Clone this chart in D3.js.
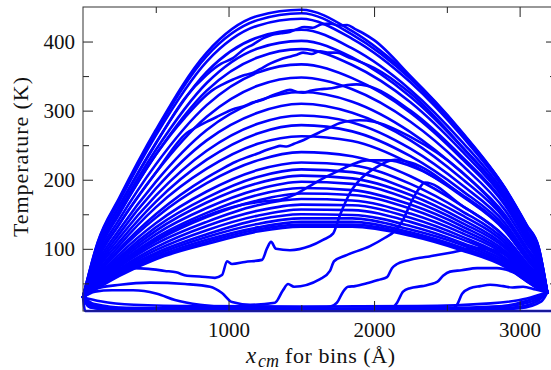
<!DOCTYPE html>
<html>
<head>
<meta charset="utf-8">
<script src="https://cdn.jsdelivr.net/npm/d3@7"></script>
<style>
  body { margin: 0; background: #fff; }
  svg { display: block; }
  svg text { font-family: "Liberation Serif", "DejaVu Serif", "Noto Serif", serif !important; fill: #111; }
</style>
</head>
<body>
<svg id="chart" width="551" height="370"></svg>
<script>
// Bin positions (Å) at which the smooth temperature profiles are sampled
const xGrid = [0, 100, 250, 500, 850, 1200, 1500, 1850, 2250, 2600, 2900, 3050, 3130, 3190];

// Smooth temperature profiles (K), one row per snapshot, values at xGrid
const profileTemps = [
  [30,109,174,272,384,437,446,415,349,270,188,134,103,37],
  [30,108,172,269,379,431,441,410,346,267,187,133,102,37],
  [30,106,169,264,371,423,433,404,341,264,184,131,100,37],
  [30,102,162,253,356,406,417,390,330,256,179,126,96,37],
  [30,97,156,243,340,390,401,377,320,248,174,122,92,37],
  [30,94,151,236,329,377,389,366,312,242,170,118,89,37],
  [30,89,143,222,308,355,367,347,297,231,163,112,84,37],
  [30,85,136,210,291,336,348,331,284,222,156,107,80,37],
  [30,80,128,197,272,314,327,313,269,211,149,101,76,37],
  [30,76,122,187,257,297,310,297,257,202,143,97,72,37],
  [30,73,116,177,242,281,293,283,245,193,137,92,69,37],
  [30,70,110,168,229,267,279,270,234,185,132,89,67,37],
  [30,66,105,160,216,252,263,256,223,177,126,85,64,37],
  [30,62,97,145,195,228,240,234,205,163,117,79,59,37],
  [30,59,92,137,183,214,225,221,194,155,112,75,57,37],
  [30,57,88,131,174,204,215,211,185,149,108,72,55,37],
  [30,56,85,126,167,195,206,202,178,143,104,70,54,37],
  [30,54,82,121,159,186,197,194,171,138,101,68,52,37],
  [30,52,79,116,152,178,188,185,164,133,97,66,51,37],
  [30,51,76,111,146,170,180,178,158,128,94,64,49,37],
  [30,50,74,107,139,163,172,170,151,123,91,62,48,37],
  [30,48,71,102,133,155,164,163,145,118,87,60,47,37],
  [30,47,69,98,127,148,157,156,139,114,85,59,46,37],
  [30,46,67,94,121,142,150,149,133,109,82,57,45,37],
  [30,45,65,91,117,136,144,144,128,106,79,55,44,37],
  [30,44,63,88,113,131,139,139,124,102,77,54,43,37],
  [30,44,62,86,110,128,135,135,121,100,76,53,43,37],
  [30,43,61,85,107,125,132,132,119,98,74,53,42,37]
];

// Noisy profiles, [x (Å), T (K)]
const noisy1 = [[0,30],[100,102],[250,162],[500,252],[700,318],[850,352],[950,368],[1030,376],[1100,388],[1170,396],[1240,405],[1300,410],[1360,412],[1420,414],[1470,418],[1520,421],[1580,420],[1640,425],[1700,426],[1760,423],[1815,424],[1870,418],[1925,412],[2000,402],[2250,350],[2600,269],[2900,187],[3050,133],[3130,102],[3190,37]];
const noisy2 = [[0,30],[100,94],[250,151],[500,236],[700,290],[893,330],[960,338],[1031,345],[1100,351],[1160,354],[1216,360],[1285,368],[1354,374],[1420,378],[1470,381],[1512,384],[1570,382],[1629,386],[1690,384],[1745,384],[1815,378],[1900,371],[2000,362],[2250,325],[2600,249],[2900,175],[3050,123],[3130,93],[3190,37]];
const noisy3 = [[0,30],[100,85],[250,136],[500,210],[715,268],[780,276],[852,284],[930,292],[1031,302],[1100,306],[1170,312],[1240,316],[1300,322],[1354,326],[1422,330],[1470,327],[1512,326],[1570,329],[1629,331],[1690,332],[1745,334],[1815,337],[1880,338],[1950,336],[2250,300],[2600,234],[2900,165],[3050,114],[3130,85],[3190,37]];
const noisy4 = [[0,30],[100,64],[250,100],[500,150],[850,203],[950,215],[1050,226],[1120,232],[1200,238],[1260,243],[1320,247],[1354,249],[1400,248],[1450,252],[1500,256],[1560,262],[1620,268],[1700,276],[1766,282],[1830,285],[1900,286],[2000,284],[2250,262],[2600,212],[2900,146],[3050,100],[3130,74],[3190,37]];
const noisy5 = [[0,30],[100,51],[250,77],[500,113],[850,148],[1100,164],[1300,170],[1354,171],[1450,178],[1550,190],[1650,202],[1766,214],[1850,222],[1950,228],[2100,228],[2250,220],[2600,179],[2900,128],[3050,88],[3130,65],[3190,37]];

// Profiles with a moving front, [x (Å), T (K)]
const frontA = [[0,30],[117,58],[344,72],[450,71],[563,68],[640,66],[715,61],[800,60],[907,58],[955,62],[990,82],[1024,78],[1113,81],[1230,84],[1265,101],[1292,110],[1326,100],[1422,98],[1560,104],[1649,113],[1718,122],[1766,149],[1835,181],[1903,200],[2007,217],[2144,229],[2250,225],[2600,178],[2900,127],[3050,85],[3130,64],[3190,37]];
const frontB = [[0,30],[82,42],[254,48],[460,51],[701,49],[873,45],[955,36],[1024,23],[1148,19],[1319,22],[1374,40],[1409,49],[1450,45],[1629,56],[1697,68],[1725,82],[1800,90],[1972,104],[2075,116],[2144,126],[2199,142],[2247,164],[2302,185],[2350,196],[2600,163],[2900,117],[3050,79],[3130,59],[3190,37]];
const frontC = [[0,30],[60,20],[186,15],[460,13],[1148,13],[1600,14],[1697,16],[1745,22],[1787,38],[1821,45],[1869,46],[1950,50],[2030,55],[2089,59],[2123,72],[2158,78],[2230,83],[2316,87],[2380,89],[2433,91],[2543,95],[2694,101],[2866,95],[3037,72],[3130,52],[3190,37]];
const frontD = [[0,30],[50,18],[186,13],[460,12],[1491,11],[2110,13],[2158,22],[2199,38],[2247,43],[2330,46],[2433,52],[2474,61],[2522,67],[2600,69],[2708,72],[2845,72],[3003,62],[3120,48],[3190,37]];
const frontE = [[0,30],[40,16],[186,12],[460,11],[1491,11],[2522,12],[2570,19],[2605,35],[2659,43],[2730,46],[2797,48],[2886,46],[2950,44],[3024,45],[3110,41],[3190,37]];
const coolF  = [[0,30],[82,38],[200,40],[344,40],[420,39],[509,35],[632,26],[804,19],[1148,14],[1800,13],[2522,13],[2850,16],[3003,22],[3120,30],[3190,37]];

// Cold profiles near the base temperature
const band1 = [[0,30],[120,24],[350,19],[800,17],[1500,16.5],[2300,17],[2800,21],[3050,28],[3190,37]];
const band2 = [[0,30],[80,20],[300,14.5],[800,14],[1500,13.5],[2400,14],[2900,17],[3100,25],[3190,37]];
const band3 = [[0,30],[60,18],[250,13],[800,12.5],[2500,12.5],[2950,15],[3120,24],[3190,37]];
const band4 = [[0,30],[50,15],[200,11.5],[1500,11],[2700,11.5],[3000,14],[3150,24],[3190,37]];
const initial = [[0,30],[15,10],[3250,10]];

// Axis ticks
const xMajor = [1000, 2000, 3000];
const xMinor = [500, 1500, 2500];
const yMajor = [100, 200, 300, 400];
const yMinor = [50, 150, 250, 350];

const svg = d3.select("#chart");
const L = 83, R = 556, T = 7, B = 311;
const x = d3.scaleLinear().domain([0, 3250]).range([L, R]);
const y = d3.scaleLinear().domain([10, 450]).range([B, T]);

svg.append("rect").attr("width", 551).attr("height", 370).attr("fill", "#fff");

// Curves
const line = d3.line().x(d => x(d[0])).y(d => y(d[1])).curve(d3.curveMonotoneX);
const series = [];
profileTemps.forEach(row => series.push(row.map((t, i) => [xGrid[i], t])));
[noisy1, noisy2, noisy3, noisy4, noisy5,
 frontA, frontB, frontC, frontD, frontE, coolF,
 band1, band2, band3, band4, initial].forEach(s => series.push(s));

svg.append("g")
  .selectAll("path")
  .data(series)
  .join("path")
  .attr("d", line)
  .attr("fill", "none")
  .attr("stroke", "#0000ff")
  .attr("stroke-width", 2.6)
  .attr("stroke-linejoin", "round")
  .attr("stroke-linecap", "round");

// Axes with inward ticks on all four sides
function styleAxis(g) {
  g.attr("font-family", null).attr("font-size", null);
  g.select(".domain").remove();
  g.selectAll(".tick line").attr("stroke", "#222").attr("stroke-width", 1);
  g.selectAll(".tick text").attr("font-size", 21).attr("fill", "#111");
}
svg.append("g").attr("transform", `translate(0,${B})`)
  .call(d3.axisBottom(x).tickValues(xMajor).tickSize(-10).tickPadding(11).tickFormat(d3.format("d")))
  .call(styleAxis);
svg.append("g").attr("transform", `translate(0,${B})`)
  .call(d3.axisBottom(x).tickValues(xMinor).tickSize(-6).tickFormat(""))
  .call(styleAxis);
svg.append("g").attr("transform", `translate(0,${T})`)
  .call(d3.axisTop(x).tickValues(xMajor).tickSize(-10).tickFormat(""))
  .call(styleAxis);
svg.append("g").attr("transform", `translate(0,${T})`)
  .call(d3.axisTop(x).tickValues(xMinor).tickSize(-6).tickFormat(""))
  .call(styleAxis);
svg.append("g").attr("transform", `translate(${L},0)`)
  .call(d3.axisLeft(y).tickValues(yMajor).tickSize(-10).tickPadding(8).tickFormat(d3.format("d")))
  .call(styleAxis);
svg.append("g").attr("transform", `translate(${L},0)`)
  .call(d3.axisLeft(y).tickValues(yMinor).tickSize(-6).tickFormat(""))
  .call(styleAxis);
svg.append("g").attr("transform", `translate(${R},0)`)
  .call(d3.axisRight(y).tickValues(yMajor).tickSize(-10).tickFormat(""))
  .call(styleAxis);
svg.append("g").attr("transform", `translate(${R},0)`)
  .call(d3.axisRight(y).tickValues(yMinor).tickSize(-6).tickFormat(""))
  .call(styleAxis);

// Frame
svg.append("rect")
  .attr("x", L).attr("y", T).attr("width", R - L).attr("height", B - T)
  .attr("fill", "none").attr("stroke", "#333").attr("stroke-width", 1);

// Axis titles
svg.append("text")
  .attr("transform", "translate(28,157) rotate(-90)")
  .attr("text-anchor", "middle")
  .attr("font-size", 22)
  .attr("textLength", 160)
  .attr("lengthAdjust", "spacing")
  .text("Temperature (K)");

svg.append("text").attr("x", 246).attr("y", 363)
  .attr("font-size", 23).attr("font-style", "italic").text("x");
svg.append("text").attr("x", 258).attr("y", 367)
  .attr("font-size", 18).attr("font-style", "italic")
  .text("cm");
svg.append("text").attr("x", 285).attr("y", 363)
  .attr("font-size", 22)
  .attr("textLength", 110)
  .attr("lengthAdjust", "spacing")
  .text("for bins (Å)");
</script>
</body>
</html>
